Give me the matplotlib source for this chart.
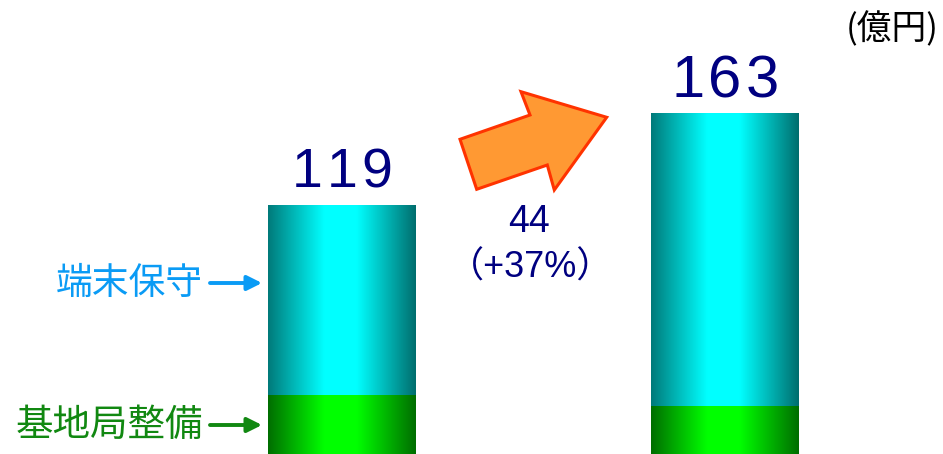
import matplotlib
matplotlib.use('Agg')
import matplotlib.pyplot as plt
import numpy as np
from matplotlib.colors import LinearSegmentedColormap
from matplotlib.patches import Polygon
from matplotlib.transforms import offset_copy

plt.rcParams['font.family'] = ['Liberation Sans', 'Noto Sans CJK JP', 'DejaVu Sans']

# data (億円)
periods = ['前期', '今期']
base_station = [28, 23]      # 基地局整備
terminal_maint = [91, 140]   # 端末保守
totals = [119, 163]
increase = 44
increase_pct = 37

W, H = 943, 454
fig = plt.figure(figsize=(W / 100, H / 100), dpi=100)
ax = fig.add_axes([0, 0, 1, 1])
ax.axis('off')

x = np.arange(len(periods))
bar_w = 148 / 383

cyan_cmap = LinearSegmentedColormap.from_list(
    'cy', [(0, '#007a7a'), (0.38, '#00ffff'), (0.6, '#00ffff'), (1, '#006e6e')])
green_cmap = LinearSegmentedColormap.from_list(
    'gr', [(0, '#006e00'), (0.38, '#00ff00'), (0.6, '#00ff00'), (1, '#006e00')])
grad = np.linspace(0, 1, 256).reshape(1, -1)


def gradient_bars(bars, cmap):
    for b in bars:
        x0, y0 = b.get_x(), b.get_y()
        im = ax.imshow(grad, cmap=cmap, aspect='auto', interpolation='bilinear',
                       extent=(x0, x0 + b.get_width(), y0, y0 + b.get_height()),
                       zorder=2)
        im.set_clip_path(b)


g = ax.bar(x, base_station, width=bar_w, color='none', edgecolor='none')
t = ax.bar(x, terminal_maint, width=bar_w, bottom=base_station,
           color='none', edgecolor='none')
gradient_bars(g, green_cmap)
gradient_bars(t, cyan_cmap)
# x: bar centres 383 px apart, first at 342 px; y: 2.09 px per 億円
ax.set_xlim(-342 / 383, (W - 342) / 383)
ax.set_ylim(0, H / 2.09)


def spaced(xv, yv, s, fs, step_px, **kw):
    # draw characters one by one with wider letter spacing
    n = len(s)
    for i, ch in enumerate(s):
        dx = (i - (n - 1) / 2) * step_px * 72 / 100
        tr = offset_copy(ax.transData, fig=fig, x=dx, y=0, units='points')
        ax.text(xv, yv, ch, transform=tr, ha='center', va='baseline',
                fontsize=fs, **kw)


# totals above bars
for xi, tot, fs, step, gap in zip(x, totals, [40, 43], [35, 37], [8.6, 7.7]):
    spaced(xi, tot + gap, str(tot), fs, step, color='#000080')


def fx(px):
    return px / W


def fy(py):
    return 1 - py / H


# orange growth arrow (pixel outline)
arrow_px = [(476.7, 189.3), (460, 139.3), (530, 115), (521, 91.7),
            (606.7, 117.3), (554.3, 190), (547.3, 165)]
poly = Polygon([(fx(a), fy(b)) for a, b in arrow_px], closed=True,
               transform=fig.transFigure, facecolor='#FF9933',
               edgecolor='#FF3300', linewidth=2.2, zorder=5)
fig.add_artist(poly)

fig.text(fx(529), fy(222), f'{increase}', ha='center', va='center',
         fontsize=27, color='#000080')
fig.text(fx(531), fy(268), f'（+{increase_pct}%）', ha='center', va='center',
         fontsize=26, color='#000080',
         family=['Liberation Sans', 'Noto Sans CJK JP'])

# unit
fig.text(fx(939), fy(30), '(億円)', ha='right', va='center', fontsize=25,
         color='black', family=['Noto Sans CJK JP'])

# segment labels with arrows
labels = [('端末保守', 283, '#0A9BF5', 26.5), ('基地局整備', 425, '#118811', 27)]
for txt, py, col, fs in labels:
    fig.text(fx(203), fy(py), txt, ha='right', va='center', fontsize=fs,
             color=col, family=['Noto Sans CJK JP'])
    ax.annotate('', xy=(fx(262), fy(py)), xytext=(fx(210), fy(py)),
                xycoords='figure fraction', textcoords='figure fraction',
                arrowprops=dict(arrowstyle='-|>', color=col, lw=2.8,
                                mutation_scale=22, shrinkA=0, shrinkB=0))

fig.savefig('out.png', dpi=100, facecolor='white')
